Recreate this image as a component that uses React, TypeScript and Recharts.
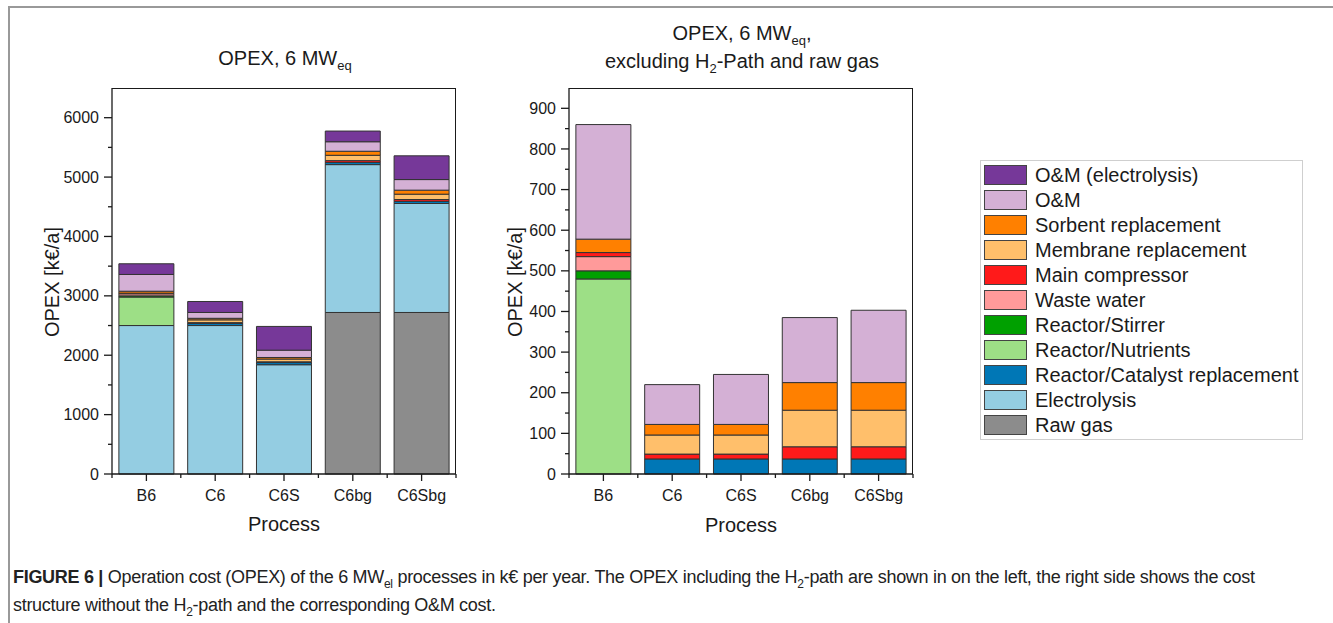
import { BarChart, Bar, XAxis, YAxis } from "recharts";

// Annual operating cost per process, k€/a, stacked bottom to top.
const processes = ["B6", "C6", "C6S", "C6bg", "C6Sbg"];
const rawGas = [0, 0, 0, 2720, 2720];
const electrolysis = [2500, 2500, 1840, 2490, 1835];
const catalyst = [0, 37, 37, 37, 37];
const nutrients = [480, 0, 0, 0, 0];
const stirrer = [20, 0, 0, 0, 0];
const wasteWater = [35, 0, 0, 0, 0];
const compressor = [10, 12, 12, 30, 30];
const membrane = [0, 47, 47, 90, 90];
const sorbent = [33, 26, 26, 68, 68];
const om = [282, 98, 123, 160, 178];
const omElectrolysis = [180, 185, 400, 180, 400];

const leftTicks = [0, 500, 1000, 1500, 2000, 2500, 3000, 3500, 4000, 4500, 5000, 5500, 6000];
const rightTicks = [0, 50, 100, 150, 200, 250, 300, 350, 400, 450, 500, 550, 600, 650, 700, 750, 800, 850, 900];

type Series = { key: string; name: string; color: string; values: number[] };

// legend order (top to bottom); stacking uses the reverse
const series: Series[] = [
  { key: "omEl", name: "O&M (electrolysis)", color: "#763899", values: omElectrolysis },
  { key: "om", name: "O&M", color: "#d4b0d5", values: om },
  { key: "sorbent", name: "Sorbent replacement", color: "#ff8000", values: sorbent },
  { key: "membrane", name: "Membrane replacement", color: "#ffbf6b", values: membrane },
  { key: "compressor", name: "Main compressor", color: "#ff1a1a", values: compressor },
  { key: "waste", name: "Waste water", color: "#ff9a9a", values: wasteWater },
  { key: "stirrer", name: "Reactor/Stirrer", color: "#00a000", values: stirrer },
  { key: "nutrients", name: "Reactor/Nutrients", color: "#9ddf86", values: nutrients },
  { key: "catalyst", name: "Reactor/Catalyst replacement", color: "#0077b6", values: catalyst },
  { key: "electrolysis", name: "Electrolysis", color: "#94cde2", values: electrolysis },
  { key: "rawGas", name: "Raw gas", color: "#8c8c8c", values: rawGas },
];

const rightKeys = ["om", "sorbent", "membrane", "compressor", "waste", "stirrer", "nutrients", "catalyst"];

const rows = processes.map((p, i) => {
  const r: Record<string, any> = { name: p };
  series.forEach((s) => (r[s.key] = s.values[i]));
  return r;
});

const FONT = "'Liberation Sans', Arial, Helvetica, sans-serif";
const INK = "#1a1a1a";
const CHART_W = 440;
const CHART_H = 470;
const MARGIN = { top: 8, right: 14, bottom: 0, left: 0 };
const Y_W = 82;
const X_H = 76;
const PLOT_W = CHART_W - MARGIN.right - Y_W;
const PLOT_H = CHART_H - MARGIN.top - X_H;
const BAND = PLOT_W / processes.length;

const YTick = (props: any) => {
  const { x, y, payload, major } = props;
  const isMajor = payload.value % major === 0;
  return (
    <g>
      <line x1={x - (isMajor ? 8 : 4)} x2={x} y1={y} y2={y} stroke={INK} strokeWidth={1.3} />
      {isMajor && (
        <text x={x - 13} y={y} dy="0.35em" textAnchor="end" fontSize={16} fill={INK} fontFamily={FONT}>
          {payload.value}
        </text>
      )}
    </g>
  );
};

const XTick = (props: any) => {
  const { x, y, payload } = props;
  const last = payload.index === processes.length - 1;
  return (
    <g>
      <line x1={x} x2={x} y1={y} y2={y + 7} stroke={INK} strokeWidth={1.3} />
      <line x1={x - BAND / 2} x2={x - BAND / 2} y1={y} y2={y + 4} stroke={INK} strokeWidth={1.3} />
      {last && <line x1={x + BAND / 2} x2={x + BAND / 2} y1={y} y2={y + 4} stroke={INK} strokeWidth={1.3} />}
      <text x={x} y={y + 27} textAnchor="middle" fontSize={16} fill={INK} fontFamily={FONT}>
        {payload.value}
      </text>
    </g>
  );
};

function StackChart({ keys, max, ticks, major }: { keys: string[]; max: number; ticks: number[]; major: number }) {
  const stack = [...series].reverse().filter((s) => keys.includes(s.key));
  return (
    <div style={{ position: "relative", width: CHART_W, height: CHART_H }}>
      <BarChart width={CHART_W} height={CHART_H} data={rows} margin={MARGIN} barCategoryGap="10%">
        <XAxis
          dataKey="name"
          interval={0}
          height={X_H}
          tickSize={0}
          tickMargin={0}
          tickLine={false}
          tick={<XTick />}
          axisLine={{ stroke: INK, strokeWidth: 1.3 }}
        />
        <YAxis
          width={Y_W}
          type="number"
          domain={[0, max]}
          ticks={ticks}
          interval={0}
          tickSize={0}
          tickMargin={0}
          tickLine={false}
          tick={<YTick major={major} />}
          axisLine={{ stroke: INK, strokeWidth: 1.3 }}
        />
        {stack.map((s) => (
          <Bar key={s.key} dataKey={s.key} name={s.name} stackId="a" fill={s.color} stroke="#333" strokeWidth={1} isAnimationActive={false} />
        ))}
      </BarChart>
      {/* closed plot frame (top and right edges) */}
      <div
        style={{
          position: "absolute",
          left: Y_W,
          top: MARGIN.top,
          width: PLOT_W,
          height: PLOT_H,
          borderTop: `1.3px solid ${INK}`,
          borderRight: `1.3px solid ${INK}`,
          boxSizing: "border-box",
          pointerEvents: "none",
        }}
      />
    </div>
  );
}

const Sub = ({ children, size = 13 }: { children: any; size?: number }) => (
  <span style={{ fontSize: size, position: "relative", top: size * 0.4, lineHeight: 0 }}>{children}</span>
);

const abs = (left: number, top: number, extra: any = {}) => ({ position: "absolute" as const, left, top, ...extra });

function YLabel({ cx, cy }: { cx: number; cy: number }) {
  return (
    <div style={abs(cx - 100, cy - 12, { width: 200, height: 24, lineHeight: "24px", textAlign: "center", fontSize: 20, transform: "rotate(-90deg)" })}>
      OPEX [k€/a]
    </div>
  );
}

export default function App() {
  return (
    <div style={{ position: "absolute", left: 0, top: 0, width: 1333, height: 623, background: "#fff", fontFamily: FONT, color: INK, overflow: "hidden" }}>
      {/* figure frame */}
      <div style={abs(8, 6, { width: 1340, height: 640, borderTop: "2px solid #999", borderLeft: "2px solid #999" })} />

      <div style={abs(185, 46, { width: 200, textAlign: "center", fontSize: 20, lineHeight: "24px" })}>
        OPEX, 6 MW<Sub>eq</Sub>
      </div>
      <div style={abs(592, 19, { width: 300, textAlign: "center", fontSize: 20, lineHeight: "28px" })}>
        OPEX, 6 MW<Sub>eq</Sub>,
        <br />
        excluding H<Sub>2</Sub>-Path and raw gas
      </div>

      <div style={abs(30, 80)}>
        <StackChart keys={series.map((s) => s.key)} max={6500} ticks={leftTicks} major={1000} />
      </div>
      <div style={abs(487, 80)}>
        <StackChart keys={rightKeys} max={950} ticks={rightTicks} major={100} />
      </div>

      <YLabel cx={52} cy={282} />
      <YLabel cx={515} cy={282} />
      <div style={abs(184, 512, { width: 200, textAlign: "center", fontSize: 20, lineHeight: "24px" })}>Process</div>
      <div style={abs(641, 513, { width: 200, textAlign: "center", fontSize: 20, lineHeight: "24px" })}>Process</div>

      {/* legend */}
      <div style={abs(980, 160, { width: 323, height: 280, border: "1px solid #cfcfcf", boxSizing: "border-box" })} />
      {series.map((s, i) => (
        <div key={s.key} style={abs(984, 165 + i * 25, { height: 20, display: "flex", alignItems: "center" })}>
          <div style={{ width: 43, height: 20, boxSizing: "border-box", background: s.color, border: "1px solid #444" }} />
          <div style={{ marginLeft: 8, fontSize: 20, lineHeight: "20px", whiteSpace: "nowrap" }}>{s.name}</div>
        </div>
      ))}

      {/* caption */}
      <div style={abs(13, 563, { width: 1310, fontSize: 18, lineHeight: "28px", color: "#222", letterSpacing: -0.3, whiteSpace: "nowrap" })}>
        <div>
          <b>FIGURE 6 |</b> Operation cost (OPEX) of the 6 MW<Sub size={12}>el</Sub> processes in k€ per year. The OPEX including the H
          <Sub size={12}>2</Sub>-path are shown in on the left, the right side shows the cost
        </div>
        <div>
          structure without the H<Sub size={12}>2</Sub>-path and the corresponding O&amp;M cost.
        </div>
      </div>
    </div>
  );
}
